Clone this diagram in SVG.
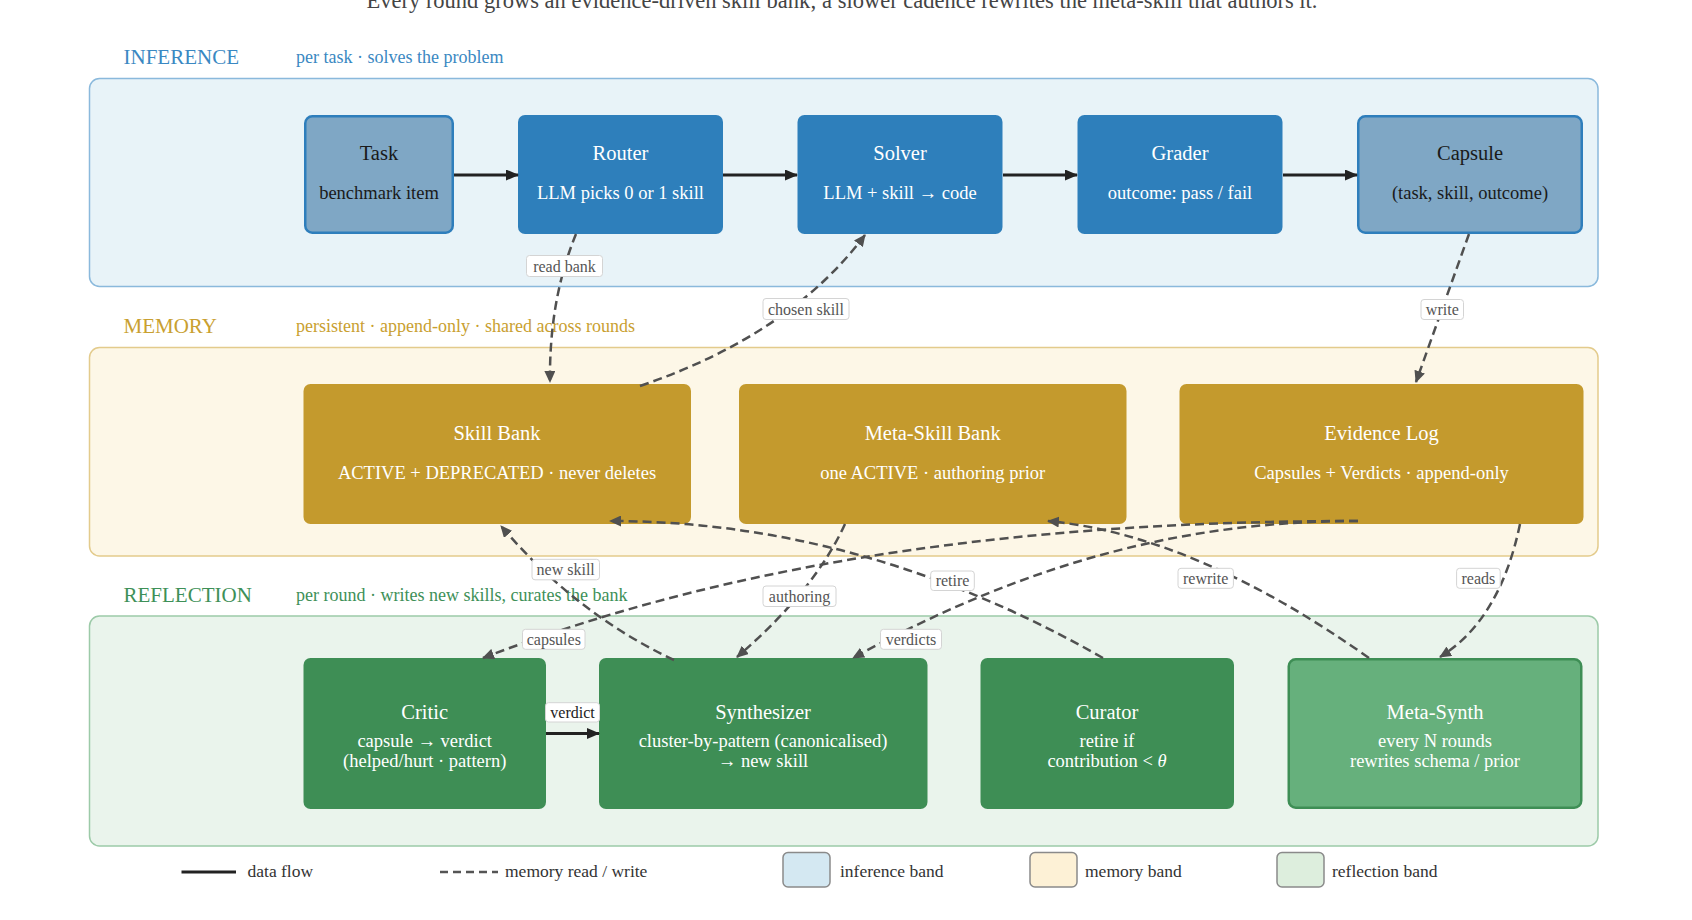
<svg xmlns="http://www.w3.org/2000/svg" width="1692" height="920" viewBox="0 0 1692 920">
<defs>
<style>
text{font-family:"Liberation Serif","Times New Roman",serif;}
.band-title{font-size:21px;}
.band-desc{font-size:18px;}
.nt{font-size:20.5px;text-anchor:middle;}
.ns{font-size:18.5px;text-anchor:middle;}
.lt{fill:#ffffff;}
.dk{fill:#1a1a1a;}
.inf{fill:#2e7fbb;}
.infs{fill:#7fa7c5;stroke:#2e7ebc;stroke-width:2.5;}
.mem{fill:#c49a2d;}
.ref{fill:#3e8e55;}
.refs{fill:#66b07c;stroke:#3e8e55;stroke-width:2.5;}
.solid{fill:none;stroke:#222;stroke-width:3;marker-end:url(#ah);}
.dash{fill:none;stroke:#505050;stroke-width:2.5;stroke-dasharray:9 5;marker-end:url(#ahd);}
.lbox{fill:#fff;stroke:#d4d4d4;stroke-width:1;}
.ltxt{font-size:16px;fill:#555;text-anchor:middle;}
.leg{font-size:17.5px;fill:#333;}
.sw{stroke:#8a8a8a;stroke-width:1.5;}
</style>
<marker id="ah" viewBox="0 0 13 11" markerWidth="13" markerHeight="11" refX="12" refY="5.5" orient="auto" markerUnits="userSpaceOnUse"><path d="M0,0 L13,5.5 L0,11 z" fill="#222"/></marker>
<marker id="ahd" viewBox="0 0 12 11" markerWidth="12" markerHeight="11" refX="11" refY="5.5" orient="auto" markerUnits="userSpaceOnUse"><path d="M0,0 L12,5.5 L0,11 z" fill="#505050"/></marker>
</defs>
<rect width="1692" height="920" fill="#ffffff"/>
<text x="842" y="8" font-size="22.5" fill="#444" text-anchor="middle">Every round grows an evidence-driven skill bank; a slower cadence rewrites the meta-skill that authors it.</text>

<g id="band-inference">
<rect x="89.5" y="78.5" width="1508.5" height="208" rx="10" fill="#e8f3f8" stroke="#8ab9dc" stroke-width="1.5"/>
<text x="123.5" y="64" class="band-title" fill="#3a88c2">INFERENCE</text>
<text x="296" y="63" class="band-desc" fill="#3a88c2">per task · solves the problem</text>
</g>
<g id="band-memory">
<rect x="89.5" y="347.5" width="1508.5" height="208.5" rx="10" fill="#fdf7e7" stroke="#e3cb8c" stroke-width="1.5"/>
<text x="123.5" y="333" class="band-title" fill="#c9a030">MEMORY</text>
<text x="296" y="332" class="band-desc" fill="#c9a030">persistent · append-only · shared across rounds</text>
</g>
<g id="band-reflection">
<rect x="89.5" y="616" width="1508.5" height="230" rx="10" fill="#eaf4ec" stroke="#9ccaa8" stroke-width="1.5"/>
<text x="123.5" y="602" class="band-title" fill="#3e9058">REFLECTION</text>
<text x="296" y="601" class="band-desc" fill="#3e9058">per round · writes new skills, curates the bank</text>
</g>

<g id="node-task"><rect x="305.25" y="116.25" width="147.5" height="116.5" rx="7" class="infs"/>
<text x="379" y="160" class="nt dk">Task</text><text x="379" y="199" class="ns dk">benchmark item</text></g>
<g id="node-router"><rect x="518" y="115" width="205" height="119" rx="7" class="inf"/>
<text x="620.5" y="160" class="nt lt">Router</text><text x="620.5" y="199" class="ns lt">LLM picks 0 or 1 skill</text></g>
<g id="node-solver"><rect x="797.5" y="115" width="205" height="119" rx="7" class="inf"/>
<text x="900" y="160" class="nt lt">Solver</text><text x="900" y="199" class="ns lt">LLM + skill → code</text></g>
<g id="node-grader"><rect x="1077.5" y="115" width="205" height="119" rx="7" class="inf"/>
<text x="1180" y="160" class="nt lt">Grader</text><text x="1180" y="199" class="ns lt">outcome: pass / fail</text></g>
<g id="node-capsule"><rect x="1358.25" y="116.25" width="223.5" height="116.5" rx="7" class="infs"/>
<text x="1470" y="160" class="nt dk">Capsule</text><text x="1470" y="199" class="ns dk">(task, skill, outcome)</text></g>

<g id="node-skillbank"><rect x="303.5" y="384" width="387.5" height="140" rx="7" class="mem"/>
<text x="497" y="440" class="nt lt">Skill Bank</text><text x="497" y="478.5" class="ns lt">ACTIVE + DEPRECATED · never deletes</text></g>
<g id="node-metaskillbank"><rect x="739" y="384" width="387.5" height="140" rx="7" class="mem"/>
<text x="932.7" y="440" class="nt lt">Meta-Skill Bank</text><text x="932.7" y="478.5" class="ns lt">one ACTIVE · authoring prior</text></g>
<g id="node-evidencelog"><rect x="1179.5" y="384" width="404" height="140" rx="7" class="mem"/>
<text x="1381.5" y="440" class="nt lt">Evidence Log</text><text x="1381.5" y="478.5" class="ns lt">Capsules + Verdicts · append-only</text></g>

<g id="node-critic"><rect x="303.5" y="658" width="242.5" height="151" rx="7" class="ref"/>
<text x="424.7" y="719" class="nt lt">Critic</text><text x="424.7" y="746.5" class="ns lt">capsule → verdict</text><text x="424.7" y="766.5" class="ns lt">(helped/hurt · pattern)</text></g>
<g id="node-synthesizer"><rect x="599" y="658" width="328.5" height="151" rx="7" class="ref"/>
<text x="763" y="719" class="nt lt">Synthesizer</text><text x="763" y="746.5" class="ns lt">cluster-by-pattern (canonicalised)</text><text x="763" y="766.5" class="ns lt">→ new skill</text></g>
<g id="node-curator"><rect x="980.5" y="658" width="253.5" height="151" rx="7" class="ref"/>
<text x="1107" y="719" class="nt lt">Curator</text><text x="1107" y="746.5" class="ns lt">retire if</text><text x="1107" y="766.5" class="ns lt">contribution &lt; <tspan font-style="italic">θ</tspan></text></g>
<g id="node-metasynth"><rect x="1288.75" y="659.25" width="292.5" height="148.5" rx="7" class="refs"/>
<text x="1435" y="719" class="nt lt">Meta-Synth</text><text x="1435" y="746.5" class="ns lt">every N rounds</text><text x="1435" y="766.5" class="ns lt">rewrites schema / prior</text></g>

<g id="connectors">
<path d="M454,175 L518,175" class="solid"/>
<path d="M723,175 L797,175" class="solid"/>
<path d="M1003,175 L1077,175" class="solid"/>
<path d="M1283,175 L1357,175" class="solid"/>
<path d="M546,733.5 L599,733.5" class="solid"/>
<path d="M576,234 Q549,300 550,382" class="dash"/>
<path d="M640,386 Q790,335 865,235" class="dash"/>
<path d="M1469,234 L1416,382" class="dash"/>
<path d="M1358,521 C1050,521 750,555 483,658" class="dash"/>
<path d="M1358,521 C1200,521 1040,555 853,658" class="dash"/>
<path d="M845,524 Q815,590 737,657" class="dash"/>
<path d="M674,660 Q576,614 501,526" class="dash"/>
<path d="M1103,658 Q863,521 610,521" class="dash"/>
<path d="M1369,658 Q1195,535 1048,521" class="dash"/>
<path d="M1520,524 Q1500,620 1440,657" class="dash"/>

<rect x="526.5" y="255.5" width="76" height="21" rx="3" class="lbox"/><text x="564.5" y="271.5" class="ltxt">read bank</text>
<rect x="763" y="298.5" width="86" height="21" rx="3" class="lbox"/><text x="806" y="314.5" class="ltxt">chosen skill</text>
<rect x="1421" y="299.5" width="42.5" height="20" rx="3" class="lbox"/><text x="1442.3" y="315" class="ltxt">write</text>
<rect x="522.5" y="629.3" width="62.5" height="20" rx="3" class="lbox"/><text x="553.8" y="644.8" class="ltxt">capsules</text>
<rect x="880.5" y="629.3" width="61" height="20" rx="3" class="lbox"/><text x="911" y="644.8" class="ltxt">verdicts</text>
<rect x="763" y="586" width="73" height="20.5" rx="3" class="lbox"/><text x="799.5" y="601.5" class="ltxt">authoring</text>
<rect x="532" y="559.3" width="67.5" height="20.5" rx="3" class="lbox"/><text x="565.7" y="575" class="ltxt">new skill</text>
<rect x="930.7" y="571" width="43.6" height="19.5" rx="3" class="lbox"/><text x="952.5" y="586" class="ltxt">retire</text>
<rect x="1178" y="568.3" width="55.4" height="20" rx="3" class="lbox"/><text x="1205.7" y="583.8" class="ltxt">rewrite</text>
<rect x="1456.6" y="568.3" width="43.6" height="20" rx="3" class="lbox"/><text x="1478.4" y="583.8" class="ltxt">reads</text>
<rect x="545.5" y="702.7" width="54" height="19.3" rx="3" class="lbox"/><text x="572.5" y="717.8" class="ltxt" style="fill:#222">verdict</text>
</g>

<g id="legend">
<line x1="181.5" y1="872" x2="236" y2="872" stroke="#222" stroke-width="3"/>
<text x="247.5" y="877" class="leg">data flow</text>
<line x1="440" y1="872" x2="498" y2="872" stroke="#555" stroke-width="2.5" stroke-dasharray="8 5"/>
<text x="505" y="877" class="leg">memory read / write</text>
<rect x="783" y="852.5" width="47" height="34.5" rx="5" fill="#d4e8f2" class="sw"/>
<text x="840" y="877" class="leg">inference band</text>
<rect x="1030" y="852.5" width="47" height="34.5" rx="5" fill="#fdf1d6" class="sw"/>
<text x="1085" y="877" class="leg">memory band</text>
<rect x="1277" y="852.5" width="47" height="34.5" rx="5" fill="#ddeedd" class="sw"/>
<text x="1332" y="877" class="leg">reflection band</text>
</g>
</svg>
